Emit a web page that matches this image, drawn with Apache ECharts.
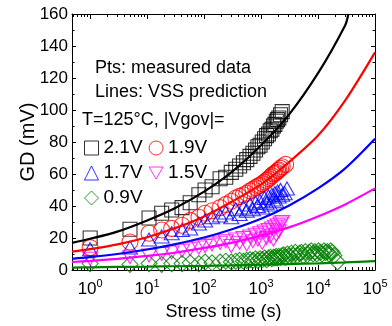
<!DOCTYPE html>
<html>
<head>
<meta charset="utf-8">
<script src="https://cdn.jsdelivr.net/npm/echarts@6/dist/echarts.min.js"></script>
<style>html,body{margin:0;padding:0;background:#fff}#c{width:392px;height:326px}</style>
</head>
<body>
<div id="c"></div>
<script>
// ---- data ----
const tCommon = [1,5,10.8,18,27,41,57,81,104,138,191,240,300,360,420,490,560,640,720,800,880,960,1050,1150,1250,1350,1450,1550,1650,1750,1850,1950,2050,2200,2350];
const gdBlack = [20,25.5,32.5,35.5,37.5,39,42,47,50,52,57,58,61,63,65,67,69,71,73,75,77,78,80,82,84,85,87,88,90,91,93,94,95,97,99];
const tRedExtra = [2700];
const gdRed = [14,17.5,23,25,26,28,31,33,35.5,37,39,41,43,45,46,47,48,49.5,50.5,51.5,52.5,53,54,55,56,57,58,59,60,60.5,61,62,62.5,63.5,64.5,66];
const tBlueExtra = [2600,2850];
const gdBlue = [13,14,19,21,23,25,26,29,31,33,34,36,33,38,35,39,37,41,38,42,40,43,39,45,42,46,41,47,44,48,43,49,46,50,47,48,51];
const gdMagenta = [7,8,9,10,11,12,13,14,15,16,17,18,15,19,17,20,16,21,18,22,19,23,17,24,20,25,21,26,19,27,22,28,24,29,30];
const tGreenExtra = [2500,2700,2900,3100,3400,3700,4000,4300,4700,5100,5500,6000,6500,7000,7600,8200,8800,9500,10200,11000,11800,12700,13600,14600,15600,16700,17800,19000,22000];
const gdGreen = [4,3.5,4,3.5,4,4,4.5,4,5,4.5,5,5.5,5,5.5,6,5.5,6,6.5,6,7,6,7,6.5,7.5,6.5,7.5,8,7,8,7.5,8.5,7.5,8.5,8,9,
  9.5,8,10,8.5,10.5,9,11,9,10.5,11,9,11.5,9.5,11,12,10,11.5,10,12,11,10,12,11,11.5,10,12,11,9,5];

// prediction curves
const tCurve = [0.48,1,3,10,30,100,300,1000,3000,10000,30000,100000];
const curveBlackT = [0.48,1,3,10,30,100,300,1000,3000,10000,30000,34000];
const curveBlack = [17,19.5,24,31,38.5,49,61,78,96.5,123,153,160];
const curveRed = [11.5,13,16,20.5,26,33.5,42.5,53.5,67,84,106,136];
const curveBlue = [7,8,10,12.8,16,20.3,25.3,32,40,51,63.5,82];
const curveMagenta = [5,5.7,7,8.8,10.8,13.8,17,21.5,26.5,33.5,41,51];
const curveGreen = [1.5,1.7,1.9,2.1,2.35,2.6,2.9,3.3,3.7,4.2,4.8,5.5];

const names = ['2.1V','1.9V','1.7V','1.5V','0.9V'];
const majorX = [1,10,100,1000,10000,100000];
const minorX = [];
[0.1,1,10,100,1000,10000].forEach(d => { for (let k = 2; k <= 9; k++) minorX.push(k*d); });

function zip(ts, vs){ return vs.map((v,i)=>[ts[i], v]); }

const ff = '"Liberation Sans", Arial, sans-serif';
const chart = echarts.init(document.getElementById('c'), null, {renderer:'canvas'});

const baseX = {type:'log', logBase:10, min:0.48, max:100000, gridIndex:0,
  splitLine:{show:false}, axisLine:{show:true, lineStyle:{color:'#000', width:1}}};

const colors = ['#000000','#ff0000','#0000ff','#ff00ff','#008000'];
const downTri = 'path://M0,0L14,0L7,12Z';

function scatter(name, data, symbol, size, color, rotate){
  return {type:'scatter', name, data, symbol, symbolSize:size, symbolRotate:rotate||0,
    itemStyle:{color:'rgba(0,0,0,0)', borderColor:color, borderWidth:1.1}, z:2, silent:true};
}
function curve(data, color){
  return {type:'line', data, smooth:0.3, showSymbol:false, symbol:'none', clip:true, silent:true,
    lineStyle:{color, width:2.2}, z:3};
}
function legItem(i, icon){
  const o = {name:names[i], itemStyle:{color:'rgba(0,0,0,0)', borderColor:colors[i], borderWidth:1}};
  if (icon) o.icon = icon;
  return o;
}

const legendCommon = {itemWidth:14, itemHeight:14, itemGap:6, padding:0, selectedMode:false,
  itemStyle:{borderWidth:1},
  textStyle:{fontSize:19, color:'#000', fontFamily:ff, lineHeight:20}};

chart.setOption({
  animation:false,
  backgroundColor:'#fff',
  grid:{left:72, right:17, top:14, bottom:56},
  xAxis:[
    Object.assign({}, baseX, {position:'bottom',
      name:'Stress time (s)', nameLocation:'middle', nameGap:32,
      nameTextStyle:{fontSize:18, color:'#000', fontFamily:ff},
      axisTick:{show:true, inside:true, length:5, customValues:majorX, lineStyle:{color:'#000'}},
      axisLabel:{show:true, customValues:majorX, margin:8, color:'#000', fontFamily:ff,
        formatter:function(v){ return '{b|10}{s|' + Math.round(Math.log10(v)) + '}'; },
        rich:{b:{fontSize:17, fontFamily:ff, color:'#000', lineHeight:20, verticalAlign:'bottom'},
              s:{fontSize:11, fontFamily:ff, color:'#000', lineHeight:20, verticalAlign:'top'}}}}),
    Object.assign({}, baseX, {position:'bottom', axisLine:{show:false},
      axisTick:{show:true, inside:true, length:3, customValues:minorX, lineStyle:{color:'#000'}},
      axisLabel:{show:false}}),
    Object.assign({}, baseX, {position:'top',
      axisTick:{show:true, inside:true, length:5, customValues:majorX, lineStyle:{color:'#000'}},
      axisLabel:{show:false}}),
    Object.assign({}, baseX, {position:'top', axisLine:{show:false},
      axisTick:{show:true, inside:true, length:3, customValues:minorX, lineStyle:{color:'#000'}},
      axisLabel:{show:false}})
  ],
  yAxis:[
    {type:'value', min:0, max:160, interval:20, position:'left',
     name:'GD (mV)', nameLocation:'middle', nameGap:34, nameRotate:90, nameMoveOverlap:false,
     nameTextStyle:{fontSize:20, color:'#000', fontFamily:ff},
     axisLine:{show:true, lineStyle:{color:'#000', width:1}},
     axisTick:{show:true, inside:true, length:4, lineStyle:{color:'#000'}},
     minorTick:{show:true, splitNumber:2, length:2.5, lineStyle:{color:'#000'}},
     axisLabel:{fontSize:17, color:'#000', fontFamily:ff, margin:4},
     splitLine:{show:false}},
    {type:'value', min:0, max:160, interval:20, position:'right',
     axisLine:{show:true, lineStyle:{color:'#000', width:1}},
     axisTick:{show:true, inside:true, length:4, lineStyle:{color:'#000'}},
     minorTick:{show:true, splitNumber:2, length:2.5, lineStyle:{color:'#000'}},
     axisLabel:{show:false}, splitLine:{show:false}}
  ],
  legend:[
    Object.assign({}, legendCommon, {data:[legItem(0,'rect'), legItem(1,'circle')], left:84, top:138}),
    Object.assign({}, legendCommon, {data:[legItem(2,'triangle'), legItem(3, downTri)], left:84, top:163}),
    Object.assign({}, legendCommon, {data:[legItem(4,'diamond')], left:84, top:188})
  ],
  graphic:[
    {type:'text', left:95, top:59, style:{text:'Pts: measured data', font:'18px '+ff, fill:'#000'}},
    {type:'text', left:95, top:83, style:{text:'Lines: VSS prediction', font:'18px '+ff, fill:'#000'}},
    {type:'text', left:82, top:111, style:{text:'T=125°C, |Vgov|=', font:'18px '+ff, fill:'#000'}}
  ],
  series:[
    scatter(names[0], zip(tCommon, gdBlack), 'rect', 14, colors[0]),
    scatter(names[1], zip(tCommon.concat(tRedExtra), gdRed), 'circle', 16, colors[1]),
    scatter(names[2], zip(tCommon.concat(tBlueExtra), gdBlue), 'triangle', [15,13], colors[2]),
    scatter(names[3], zip(tCommon, gdMagenta), 'triangle', [15,13], colors[3], 180),
    scatter(names[4], zip(tCommon.concat(tGreenExtra), gdGreen), 'diamond', 16, colors[4]),
    curve(zip(curveBlackT, curveBlack), colors[0]),
    curve(zip(tCurve, curveRed), colors[1]),
    curve(zip(tCurve, curveBlue), colors[2]),
    curve(zip(tCurve, curveMagenta), colors[3]),
    curve(zip(tCurve, curveGreen), colors[4])
  ]
});
</script>
</body>
</html>
